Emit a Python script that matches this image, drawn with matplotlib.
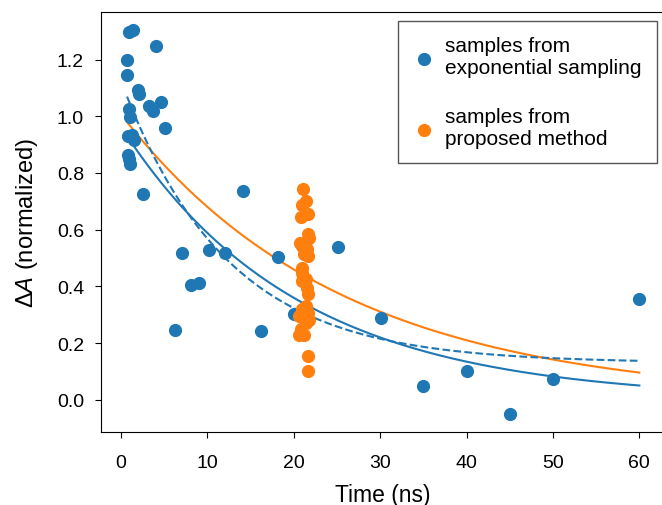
import numpy as np
import matplotlib
matplotlib.use("Agg")
import matplotlib.pyplot as plt

plt.rcParams["font.family"] = ["Liberation Sans", "DejaVu Sans"]
plt.rcParams["mathtext.fontset"] = "custom"
plt.rcParams["mathtext.rm"] = "Liberation Sans"
plt.rcParams["mathtext.it"] = "Liberation Sans:italic"

BLUE, ORANGE = "#1f77b4", "#ff7f0e"

# samples from exponential sampling
exp_t = [0.96, 1.42, 0.7, 0.7, 4.1, 1.93, 2.1, 4.6, 0.96, 1.08, 3.2, 3.66, 5.1,
         0.77, 1.3, 1.54, 0.85, 0.96, 1.08, 2.6, 6.2, 7.1, 8.1, 9.0, 10.2, 12.0,
         14.1, 16.2, 18.2, 20.0, 25.1, 30.1, 35.0, 40.0, 45.0, 50.0, 60.0]
exp_a = [1.298, 1.304, 1.198, 1.144, 1.247, 1.094, 1.08, 1.052, 1.027, 0.999, 1.035, 1.02, 0.958,
         0.929, 0.935, 0.917, 0.865, 0.85, 0.832, 0.725, 0.245, 0.519, 0.405, 0.413, 0.53, 0.516,
         0.736, 0.241, 0.505, 0.304, 0.538, 0.287, 0.05, 0.10, -0.05, 0.074, 0.355]

# samples from proposed method
prop_t = [21.07, 21.4, 20.9, 21.6, 20.8, 21.6, 21.8, 20.7, 20.9, 21.5, 21.2, 21.6, 20.9, 21.0,
          21.4, 21.0, 21.5, 21.6, 21.4, 21.0, 21.6, 20.6, 21.8, 21.4, 20.8, 21.2, 20.6, 21.7, 21.7]
prop_a = [0.743, 0.702, 0.687, 0.655, 0.643, 0.584, 0.572, 0.552, 0.543, 0.531, 0.513, 0.507, 0.466, 0.448,
          0.425, 0.419, 0.395, 0.372, 0.33, 0.319, 0.307, 0.295, 0.283, 0.272, 0.248, 0.23, 0.23, 0.153, 0.10]

# fitted decays: A * exp(-t / tau) + C
FIT_EXP = (0.963, 20.3, 0.0)
FIT_PROP = (1.007, 25.5, 0.0)
FIT_TRUE = (0.995, 12.2, 0.13)


def decay(t, p):
    a, tau, c = p
    return a * np.exp(-t / tau) + c


fig = plt.figure(figsize=(6.62, 5.06), dpi=100)
ax = fig.add_axes([100.7 / 662, 72.7 / 506, 564.3 / 662, 420 / 506])

ax.scatter(exp_t, exp_a, s=72, color=BLUE, label="samples from\nexponential sampling", zorder=3)
ax.scatter(prop_t, prop_a, s=72, color=ORANGE, label="samples from\nproposed method", zorder=3)

tt = np.linspace(min(exp_t), 60, 300)
ax.plot(tt, decay(tt, FIT_EXP), color=BLUE, lw=1.5)
ax.plot(tt, decay(tt, FIT_PROP), color=ORANGE, lw=1.5)
ax.plot(tt, decay(tt, FIT_TRUE), color=BLUE, lw=1.5, ls="--")

ax.set_xlim(-2.35, 62.97)
ax.set_ylim(-0.115, 1.367)
ax.set_xticks([0, 10, 20, 30, 40, 50, 60])
ax.set_yticks([0.0, 0.2, 0.4, 0.6, 0.8, 1.0, 1.2])
ax.tick_params(labelsize=14, length=4.5)
ax.tick_params(axis="x", pad=11)
ax.tick_params(axis="y", pad=7.5)
ax.set_xlabel("Time (ns)", fontsize=16.5, labelpad=8.5)
ax.set_ylabel(r"$\Delta A$ (normalized)", fontsize=17, labelpad=12)

leg = ax.legend(loc="upper left", bbox_to_anchor=(0.527, 0.979), borderaxespad=0,
                fontsize=15, fancybox=False, framealpha=1, edgecolor="#555555",
                labelspacing=1.45, borderpad=0.72, handlelength=1.0, handletextpad=0.55)
leg.get_frame().set_linewidth(1.0)

fig.savefig("out.png", dpi=100)
